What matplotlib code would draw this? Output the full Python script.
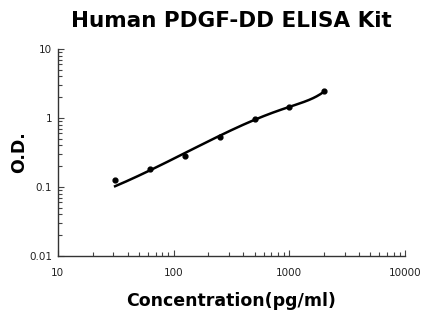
import numpy as np
import matplotlib.pyplot as plt
from matplotlib.ticker import FuncFormatter, LogLocator

# standard curve points
conc = [31.25, 62.5, 125, 250, 500, 1000, 2000]
od = [0.126, 0.18, 0.28, 0.53, 0.97, 1.44, 2.42]

plt.rcParams['font.family'] = ['DejaVu Sans']

fig = plt.figure(figsize=(4.22, 3.16), dpi=100)
ax = fig.add_axes([0.137, 0.19, 0.823, 0.655])

# polynomial trend line (fit in linear space)
coef = np.polyfit(conc, od, 3)
xs = np.logspace(np.log10(conc[0]), np.log10(conc[-1]), 300)
ax.plot(xs, np.polyval(coef, xs), color='black', linewidth=1.8)
ax.scatter(conc, od, color='black', s=12, zorder=3)

ax.set_xscale('log')
ax.set_yscale('log')
ax.set_xlim(10, 10000)
ax.set_ylim(0.01, 10)

fmt = FuncFormatter(lambda v, p: ('%g' % v))
ax.xaxis.set_major_formatter(fmt)
ax.yaxis.set_major_formatter(fmt)
ax.xaxis.set_minor_locator(LogLocator(base=10, subs=np.arange(2, 10)))
ax.yaxis.set_minor_locator(LogLocator(base=10, subs=np.arange(2, 10)))
ax.xaxis.set_minor_formatter(FuncFormatter(lambda v, p: ''))
ax.yaxis.set_minor_formatter(FuncFormatter(lambda v, p: ''))

ax.tick_params(which='both', direction='in', labelsize=7.5, color='#444444',
               labelcolor='#222222')
ax.tick_params(which='major', length=4, width=0.8)
ax.tick_params(which='minor', length=3, width=0.8)
ax.tick_params(axis='x', pad=9)
ax.tick_params(axis='y', pad=4)

for s in ['top', 'right']:
    ax.spines[s].set_visible(False)
for s in ['left', 'bottom']:
    ax.spines[s].set_color('#333333')
    ax.spines[s].set_linewidth(1.0)

ax.set_title('Human PDGF-DD ELISA Kit', fontsize=15.5, fontweight='bold', pad=16)
ax.set_xlabel('Concentration(pg/ml)', fontsize=12.5, fontweight='bold', labelpad=10)
ax.set_ylabel('O.D.', fontsize=12.5, fontweight='bold', labelpad=1)

fig.savefig('out.png', dpi=100)
